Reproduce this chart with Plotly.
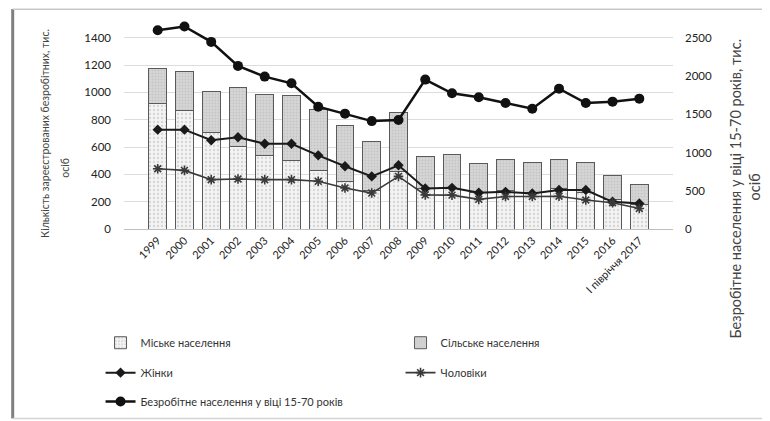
import plotly.graph_objects as go

years = ["1999", "2000", "2001", "2002", "2003", "2004", "2005", "2006", "2007",
         "2008", "2009", "2010", "2011", "2012", "2013", "2014", "2015", "2016",
         "І півріччя 2017"]
urban = [920, 868, 703, 606, 535, 504, 431, 345, 285, 418, 300, 300, 265, 280, 270, 300, 270, 215, 180]
rural = [255, 282, 300, 430, 452, 474, 446, 409, 357, 431, 230, 242, 216, 226, 218, 208, 218, 175, 148]
women = [727, 727, 649, 671, 624, 624, 539, 459, 385, 466, 297, 301, 265, 272, 260, 285, 285, 199, 187]
men = [441, 429, 361, 366, 361, 361, 349, 300, 263, 385, 250, 248, 217, 238, 238, 240, 212, 192, 150]
total_15_70 = [2598, 2646, 2445, 2131, 1991, 1904, 1598, 1507, 1410, 1424, 1952, 1773, 1721, 1646,
               1572, 1834, 1646, 1664, 1703]

left_title = ["Кількість зареєстрованих безробітних, тис.", "осіб"]
right_title = ["Безробітне населення у віці 15-70 років, тис.", "осіб"]

FONT = "Lato"
OFF = 8  # page body margin
W, H = 770 - OFF, 421 - OFF
# plot area in page pixels
PL, PR, PT, PB = 123.5, 673.5, 23.5, 229.0
L, R, T, B = PL - OFF, PR - OFF, PT - OFF, PB - OFF


def px(x):
    return (x - OFF - L) / (R - L)


def py(y):
    return (B - (y - OFF)) / (B - T)


fig = go.Figure()
fig.add_trace(go.Bar(
    x=years, y=urban, name="Міське населення", legend="legend",
    marker=dict(color="#f3f3f3", line=dict(color="#5a5a5a", width=1),
                pattern=dict(shape=".", fgcolor="#b5b5b5", bgcolor="#f3f3f3", size=4, solidity=0.25)),
))
fig.add_trace(go.Bar(
    x=years, y=rural, name="Сільське населення", legend="legend",
    marker=dict(color="#d2d2d2", line=dict(color="#5a5a5a", width=1),
                pattern=dict(shape=".", fgcolor="#b0b0b0", bgcolor="#d6d6d6", size=3, solidity=0.3)),
))
fig.add_trace(go.Scatter(
    x=years, y=women, name="Жінки", legend="legend2", mode="lines+markers",
    line=dict(color="#1a1a1a", width=2),
    marker=dict(symbol="diamond", size=8, color="#1a1a1a"), cliponaxis=False,
))
fig.add_trace(go.Scatter(
    x=years, y=men, name="Чоловіки", legend="legend2", mode="lines+markers",
    line=dict(color="#3a3a3a", width=1.6),
    marker=dict(symbol="asterisk-open", size=8, line=dict(color="#2a2a2a", width=1.6)), cliponaxis=False,
))
fig.add_trace(go.Scatter(
    x=years, y=total_15_70, name="Безробітне населення у віці 15-70 років", legend="legend3",
    mode="lines+markers", yaxis="y2",
    line=dict(color="#111111", width=2.5),
    marker=dict(symbol="circle", size=10, color="#111111"), cliponaxis=False,
))

legend_common = dict(orientation="h", xanchor="left", yanchor="middle", bgcolor="rgba(0,0,0,0)",
                     font=dict(family=FONT, size=11, color="#333333"), traceorder="normal",
                     entrywidth=255, entrywidthmode="pixels", itemwidth=30, tracegroupgap=0)

fig.update_layout(
    width=W, height=H,
    margin=dict(l=L, r=W - R, t=T, b=H - B, pad=0, autoexpand=False),
    paper_bgcolor="white", plot_bgcolor="white",
    barmode="stack", bargap=0.34,
    font=dict(family=FONT, size=11, color="#333333"),
    xaxis=dict(type="category", showgrid=False, showline=True, linecolor="#bfbfbf", linewidth=1,
               tickangle=-45, tickfont=dict(family=FONT, size=11, color="#222222"), ticks=""),
    yaxis=dict(range=[0, 1500], tick0=0, dtick=200, showgrid=True, gridcolor="#dcdcdc", gridwidth=1,
               zeroline=False, showline=False, ticks="", ticklabelstandoff=12,
               tickfont=dict(family=FONT, size=11.5, color="#222222")),
    yaxis2=dict(range=[0, 1500 * 2500 / 1400], tick0=0, dtick=500, overlaying="y", side="right",
                showgrid=False, zeroline=False, showline=False, ticks="", ticklabelstandoff=11,
                tickfont=dict(family=FONT, size=11.5, color="#222222")),
    legend=dict(x=px(100), y=py(343), **legend_common),
    legend2=dict(x=px(100), y=py(373), **legend_common),
    legend3=dict(x=px(100), y=py(402), **legend_common),
    showlegend=True,
)

# axis titles (two lines each, placed as separate rotated texts)
for txt, xx, yy in [(left_title[0], 45, 133), (left_title[1], 65, 168)]:
    fig.add_annotation(text=txt, textangle=-90, xref="paper", yref="paper", x=px(xx), y=py(yy),
                       xanchor="center", yanchor="middle", showarrow=False,
                       font=dict(family=FONT, size=10.5, color="#444444"))
for txt, xx, yy in [(right_title[0], 736, 188), (right_title[1], 755, 187)]:
    fig.add_annotation(text=txt, textangle=-90, xref="paper", yref="paper", x=px(xx), y=py(yy),
                       xanchor="center", yanchor="middle", showarrow=False,
                       font=dict(family=FONT, size=14.5, color="#444444"))

# chart frame
fig.add_shape(type="line", xref="paper", yref="paper", x0=px(12), x1=px(12), y0=py(8.5), y1=py(419),
              line=dict(color="#808080", width=3))
fig.add_shape(type="line", xref="paper", yref="paper", x0=px(12), x1=px(770), y0=py(8.7), y1=py(8.7),
              line=dict(color="#c8c8c8", width=1.5))
fig.add_shape(type="line", xref="paper", yref="paper", x0=px(12), x1=px(770), y0=py(419), y1=py(419),
              line=dict(color="#d4d4d4", width=1.5))

fig.write_html("out.html")
